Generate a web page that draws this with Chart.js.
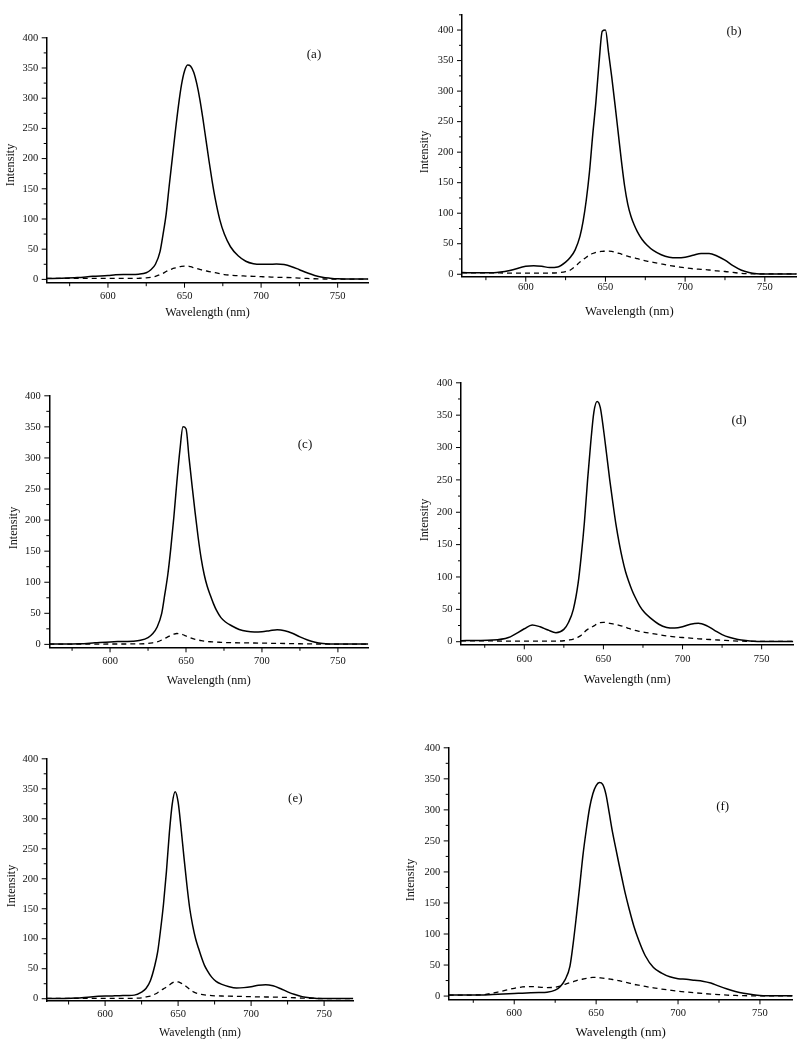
<!DOCTYPE html>
<html>
<head>
<meta charset="utf-8">
<script src="https://cdn.jsdelivr.net/npm/chart.js@4.4.1/dist/chart.umd.min.js"></script>
<style>
  body { margin: 0; background: #fff; }
  #page { position: relative; width: 800px; height: 1046px; overflow: hidden; background: #fff; }
  #page canvas { position: absolute; }
  .panel-tag {
    position: absolute;
    font: 13px 'Liberation Serif', 'Times New Roman', serif;
    color: #111;
    transform: translate(-50%, -50%);
    white-space: nowrap;
  }
</style>
</head>
<body>
<div id="page"></div>
<script>
// Wavelength grid (nm), shared by every panel
const wavelength = [560, 570, 580, 590, 600, 605, 610, 615, 620, 625,
  628, 631, 634, 636, 638, 640, 642, 644, 646, 648,
  650, 652, 654, 656, 658, 660, 662, 664, 666, 668,
  670, 673, 676, 680, 685, 690, 695, 700, 705, 710,
  715, 720, 725, 730, 735, 740, 745, 750, 760, 770];

// Intensities (solid / dashed)
const solidA = [1.5, 2, 3, 5, 6.5, 7.5, 8, 8, 8.5, 11,
  16, 25, 46, 75, 108, 155, 200, 245, 287, 322,
  345, 355, 353, 343, 324, 298, 266, 231, 196, 163,
  134, 99, 75, 54, 39, 30, 26, 25, 25, 25.5,
  24.5, 21, 16, 11, 6.5, 3.5, 2, 1, 0.5, 0.5];
const dashedA = [1.5, 1.5, 1.5, 1.5, 1.5, 1.5, 1.5, 1.5, 1.8, 2.5,
  3.5, 5, 8, 10, 13, 15.5, 17.5, 19, 20.5, 21.5,
  22, 22, 21, 19.5, 18, 16.5, 15, 14, 13, 12,
  11, 9.5, 8, 7, 6, 5.5, 5, 4.5, 4, 3.5,
  3.2, 2.8, 2.2, 1.5, 1, 0.7, 0.5, 0.5, 0.5, 0.5];

const solidB = [2.7, 2.5, 2.5, 6, 13, 14, 13, 11, 12, 20,
  28, 40, 62, 87, 122, 168, 228, 282, 347, 398,
  400, 362, 322, 278, 232, 186, 145, 115, 95, 81,
  70, 57, 48, 39, 32, 28, 27, 28, 31, 34,
  34, 30, 23, 14, 7, 3, 1, 0.5, 0.5, 0.5];
const dashedB = [2.5, 2.5, 2.3, 2, 2, 2, 2, 2, 2.5, 4.5,
  7, 13, 20, 24, 28, 31.5, 34, 36, 37, 37.5,
  38, 38, 37.5, 36, 34.5, 33, 31, 29.5, 28, 27,
  25.5, 23.5, 21.5, 19.5, 17, 14.5, 12.5, 10.5, 9, 8,
  7, 5.5, 4.5, 3, 1.5, 0.8, 0.5, 0.5, 0.5, 0.5];

const solidC = [0.5, 0.5, 1, 2.5, 4, 4.5, 4.7, 5, 6.5, 11,
  17, 28, 50, 80, 112, 155, 205, 262, 313, 350,
  347, 300, 255, 212, 172, 138, 112, 93, 79, 66,
  55, 43, 36, 30, 24, 21, 20, 20.5, 22, 23.5,
  22, 18, 12, 7, 3.5, 1.5, 0.7, 0.5, 0.5, 0.5];
const dashedC = [0.5, 0.5, 0.5, 0.5, 0.6, 0.6, 0.6, 0.7, 0.8, 1.5,
  2.5, 4, 7, 9.5, 12, 14.5, 16.5, 17.5, 17, 15.5,
  13.5, 11.5, 9.5, 8, 7, 6, 5.2, 4.6, 4.2, 3.9,
  3.6, 3.3, 3, 2.8, 2.5, 2.3, 2.2, 2, 1.8, 1.6,
  1.4, 1.2, 1, 0.8, 0.6, 0.5, 0.5, 0.5, 0.5, 0.5];

const solidD = [1.5, 2, 2.5, 6.5, 20, 26, 23, 18, 14, 19,
  30, 50, 90, 133, 185, 250, 308, 355, 371, 362,
  329, 290, 250, 214, 180, 152, 128, 108, 93, 80,
  69, 55, 45, 36, 27, 22, 21, 23, 27, 28.5,
  25, 18, 11, 6.5, 3.5, 1.8, 0.8, 0.5, 0.5, 0.5];
const dashedD = [1.5, 1.5, 1.2, 1, 1, 1, 1, 1, 1, 1.5,
  2.5, 4, 7, 10, 15, 19, 21.5, 24.5, 27.5, 29.5,
  30, 29.5, 28.5, 27.5, 26.5, 25.3, 24, 22.5, 20.5, 19,
  17.5, 16, 14.5, 13, 11, 9, 7.5, 6.5, 5.5, 4.5,
  3.8, 3, 2.3, 1.5, 1, 0.7, 0.5, 0.5, 0.5, 0.5];

const solidE = [0.3, 0.5, 1, 3, 4.4, 4.7, 5, 5.5, 6, 11,
  17, 30, 55, 78, 115, 158, 212, 276, 325, 345,
  328, 285, 236, 190, 150, 122, 100, 84, 69, 56,
  47, 36, 29, 24, 20, 18, 18.5, 20, 22.5, 23.5,
  21.5, 17, 11.5, 7, 3.5, 1.5, 0.5, 0.3, 0.3, 0.3];
const dashedE = [0.5, 0.5, 0.5, 0.5, 0.5, 0.5, 0.5, 0.5, 0.8, 1.5,
  3, 4.5, 7.5, 10, 13.5, 16.5, 19.5, 23, 26.5, 28.5,
  28, 26, 23.5, 19.5, 15.5, 12, 9.8, 8.3, 7.2, 6.4,
  5.8, 5.2, 4.8, 4.5, 4.2, 4, 3.7, 3.4, 3.1, 2.9,
  2.7, 2.4, 2.1, 1.6, 1, 0.6, 0.4, 0.3, 0.3, 0.3];

const solidF = [1.6, 1.6, 1.8, 3, 4.2, 4.7, 5.3, 5.8, 6.3, 9.5,
  15, 26, 48, 85, 130, 178, 228, 268, 303, 326,
  339, 344, 341, 325, 295, 264, 238, 212, 187, 163,
  142, 113, 90, 65, 46, 37, 31, 28, 27, 25.5,
  24, 21, 16, 11.5, 7.5, 4.5, 2.5, 1, 0.5, 0.5];
const dashedF = [1.6, 1.6, 2, 6.5, 12.5, 14.7, 15.3, 14.5, 13.7, 14.3,
  16, 19, 21.5, 23, 25, 26.3, 27.5, 28.5, 29.5, 30,
  30, 29.5, 29, 28.3, 27.5, 26.7, 25.8, 24.8, 23.5, 22.3,
  21, 19, 17.5, 15.5, 13.2, 11.3, 9.5, 7.8, 6.5, 5.3,
  4.2, 3.2, 2.3, 1.5, 1, 0.6, 0.4, 0.3, 0.3, 0.3];

// Tick values
const xMajorTicks = [600, 650, 700, 750];
const xMinorTicks = [575, 625, 675, 725];
const yMajorTicks = [0, 50, 100, 150, 200, 250, 300, 350, 400];
const yMinorTicks = [25, 75, 125, 175, 225, 275, 325, 375, 425];

const serif = "'Liberation Serif', 'Times New Roman', serif";
Chart.defaults.font.family = serif;
Chart.defaults.color = '#111';

// Panel placement on the page (pixels) and axis ranges
const panels = [
  { tag: '(a)', solid: solidA, dashed: dashedA, left: 46.7, right: 368.3, top: 33, bottom: 282.7,
    yMin: -5.5, yMax: 400, yTitle: [11, 165], xTitleY: 313, xTitleSize: 12.2, xTickPad: 7.3, tagPos: [314, 54] },
  { tag: '(b)', solid: solidB, dashed: dashedB, left: 462, right: 796.7, top: 8.3, bottom: 276.7,
    yMin: -4, yMax: 425, yTitle: [425, 152], xTitleY: 312, xTitleSize: 12.8, xTickPad: 4.6, tagPos: [734, 31] },
  { tag: '(c)', solid: solidC, dashed: dashedC, left: 49.3, right: 368.3, top: 391, bottom: 647.3,
    yMin: -4.7, yMax: 400, yTitle: [14, 528], xTitleY: 680.5, xTitleSize: 12.1, xTickPad: 7.4, tagPos: [305, 444] },
  { tag: '(d)', solid: solidD, dashed: dashedD, left: 461, right: 793.3, top: 378.3, bottom: 644.3,
    yMin: -4, yMax: 400, yTitle: [425, 520], xTitleY: 679.5, xTitleSize: 12.5, xTickPad: 8.7, tagPos: [739, 420] },
  { tag: '(e)', solid: solidE, dashed: dashedE, left: 46.7, right: 353.3, top: 754.3, bottom: 1001,
    yMin: -3.8, yMax: 400, yTitle: [12.3, 886], xTitleY: 1032.7, xTitleSize: 11.8, xTickPad: 7, tagPos: [295.3, 797.7] },
  { tag: '(f)', solid: solidF, dashed: dashedF, left: 448.7, right: 792.7, top: 743.7, bottom: 999.3,
    yMin: -5.2, yMax: 400, yTitle: [411, 880], xTitleY: 1032.3, xTitleSize: 13, xTickPad: 8, tagPos: [722.7, 806] }
];

const page = document.getElementById('page');

// Origin-style tick marks (outward, minor shorter) + rotated y title
function axisDecor(panel, cl, ct) {
  return {
    id: 'axisDecor',
    afterDraw(chart) {
      const { ctx, chartArea, scales } = chart;
      ctx.save();
      ctx.strokeStyle = '#000';
      ctx.lineWidth = 1;
      ctx.beginPath();
      const mark = (ticks, len, isX) => ticks.forEach(v => {
        const s = isX ? scales.x : scales.y;
        if (v < s.min || v > s.max) return;
        const p = s.getPixelForValue(v);
        if (isX) {
          ctx.moveTo(p, chartArea.bottom);
          ctx.lineTo(p, chartArea.bottom + len);
        } else {
          ctx.moveTo(chartArea.left, p);
          ctx.lineTo(chartArea.left - len, p);
        }
      });
      mark(xMajorTicks, 5, true);
      mark(xMinorTicks, 3.5, true);
      mark(yMajorTicks, 5, false);
      mark(yMinorTicks, 3, false);
      ctx.stroke();

      ctx.fillStyle = '#111';
      ctx.font = '12.2px ' + serif;
      ctx.textAlign = 'center';
      ctx.textBaseline = 'middle';
      ctx.translate(panel.yTitle[0] - cl, panel.yTitle[1] - ct);
      ctx.rotate(-Math.PI / 2);
      ctx.fillText('Intensity', 0, 0);
      ctx.restore();
    }
  };
}

function createSpectrumChart(panel) {
  const cl = panel.left < 400 ? 0 : 400;
  const ct = Math.max(0, Math.floor(panel.top - 10));
  const cr = Math.ceil(panel.right);
  const cb = Math.ceil(panel.xTitleY + 10);

  const canvas = document.createElement('canvas');
  canvas.width = cr - cl;
  canvas.height = cb - ct;
  canvas.style.left = cl + 'px';
  canvas.style.top = ct + 'px';
  page.appendChild(canvas);

  const tag = document.createElement('div');
  tag.className = 'panel-tag';
  tag.textContent = panel.tag;
  tag.style.left = panel.tagPos[0] + 'px';
  tag.style.top = panel.tagPos[1] + 'px';
  page.appendChild(tag);

  const points = values => wavelength.map((x, i) => ({ x, y: values[i] }));

  return new Chart(canvas.getContext('2d'), {
    type: 'line',
    data: {
      datasets: [{
        data: points(panel.solid),
        borderColor: '#000',
        borderWidth: 1.5,
        cubicInterpolationMode: 'monotone',
        tension: 0.4,
        pointRadius: 0,
        fill: false
      }, {
        data: points(panel.dashed),
        borderColor: '#000',
        borderWidth: 1.3,
        borderDash: [5, 4],
        cubicInterpolationMode: 'monotone',
        tension: 0.4,
        pointRadius: 0,
        fill: false
      }]
    },
    options: {
      responsive: false,
      animation: false,
      events: [],
      layout: {
        padding: { top: panel.top - ct, right: cr - panel.right, left: 0, bottom: 0 }
      },
      plugins: {
        legend: { display: false },
        tooltip: { enabled: false }
      },
      scales: {
        x: {
          type: 'linear',
          min: 560,
          max: 770,
          afterBuildTicks: s => {
            s.ticks = [...xMinorTicks, ...xMajorTicks].sort((a, b) => a - b).map(value => ({ value }));
          },
          afterFit: s => { s.height = cb - panel.bottom; },
          grid: { display: false, drawTicks: false },
          border: { display: true, color: '#000', width: 1.5 },
          ticks: {
            autoSkip: false,
            maxRotation: 0,
            padding: panel.xTickPad,
            font: { size: 10.5 },
            callback: v => (xMajorTicks.includes(v) ? String(v) : '')
          },
          title: {
            display: true,
            text: 'Wavelength (nm)',
            font: { size: panel.xTitleSize },
            padding: { top: 0, bottom: cb - panel.xTitleY - panel.xTitleSize * 0.6 }
          }
        },
        y: {
          min: panel.yMin,
          max: panel.yMax,
          afterBuildTicks: s => {
            s.ticks = [...yMajorTicks, ...yMinorTicks]
              .filter(v => v <= panel.yMax)
              .sort((a, b) => a - b)
              .map(value => ({ value }));
          },
          afterFit: s => { s.width = panel.left - cl; },
          grid: { display: false, drawTicks: false },
          border: { display: true, color: '#000', width: 1.5 },
          ticks: {
            autoSkip: false,
            padding: 8.5,
            font: { size: 10.5 },
            callback: v => (yMajorTicks.includes(v) ? String(v) : '')
          }
        }
      }
    },
    plugins: [axisDecor(panel, cl, ct)]
  });
}

panels.forEach(createSpectrumChart);
</script>
</body>
</html>
